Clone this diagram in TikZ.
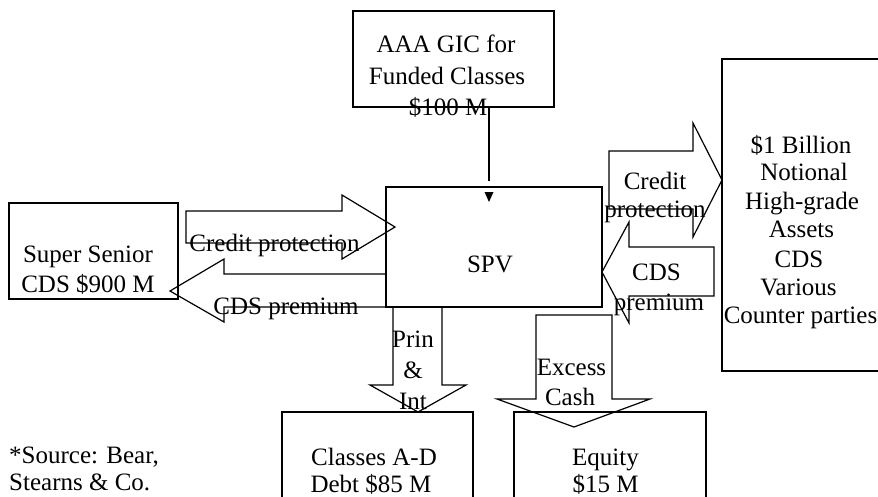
\documentclass[tikz,border=0pt]{standalone}
\usepackage{fontspec}
\setmainfont{Liberation Serif}
\begin{document}
\begin{tikzpicture}[x=1pt,y=-1pt,
  box/.style={draw,line width=1.2pt,inner sep=0pt},
  shp/.style={draw,line width=1.2pt,line join=miter},
  lbl/.style={anchor=base,inner sep=0pt,font=\fontsize{25}{29}\selectfont},
  lblw/.style={anchor=base west,inner sep=0pt,font=\fontsize{25}{29}\selectfont}]
\useasboundingbox (0,0) rectangle (878,496);
\clip (0,0) rectangle (878,496);
% boxes
\node[box,minimum width=201pt,minimum height=96pt] (gic) at (453.5,59) {};
\node[box,minimum width=216pt,minimum height=120pt] (spv) at (494,247) {};
\node[box,minimum width=169pt,minimum height=96pt] (ss) at (93.5,251) {};
\node[box,minimum width=170pt,minimum height=312pt] (assets) at (807,215) {};
\node[box,minimum width=191pt,minimum height=100pt] (cls) at (377.5,462) {};
\node[box,minimum width=192pt,minimum height=100pt] (eq) at (610,462) {};
% connector GIC -> SPV
\coordinate (gend) at (489,181);
\draw[line width=1.2pt] (gic.south -| gend) -- (gend);
\fill (484.5,192) -- (493.5,192) -- (489,202) -- cycle;
% block arrows
\draw[shp] (186,211) -- (342,211) -- (342,195) -- (395,227) -- (342,259) -- (342,243) -- (186,243) -- cycle;
\draw[shp] (386,274) -- (224,274) -- (224,259) -- (170,291) -- (224,322) -- (224,307) -- (386,307) -- cycle;
\draw[shp] (609,151) -- (693,151) -- (693,123) -- (722,180) -- (693,237) -- (693,209) -- (609,209) -- cycle;
\draw[shp] (714,247) -- (629,247) -- (629,222) -- (602,272) -- (629,323) -- (629,296) -- (714,296) -- cycle;
\draw[shp] (393,307) -- (442,307) -- (442,385) -- (466,385) -- (418,412) -- (370,385) -- (393,385) -- cycle;
\draw[shp] (536,315) -- (612,315) -- (612,399) -- (650,399) -- (574,427) -- (497,399) -- (536,399) -- cycle;
% texts
\node[lbl] (g1) at (446,52) {AAA GIC for};
\node[lbl] (g2) at (447,84) {Funded Classes};
\node[lbl] (g3) at (448,115) {\$100 M};
\node[lbl] (s1) at (88,262) {Super Senior};
\node[lbl] (s2) at (88,292) {CDS \$900 M};
\node[lbl] (cp1) at (274.5,251) {Credit protection};
\node[lbl] (pr1) at (286,314) {CDS premium};
\node[lbl] (spvt) at (490,272) {SPV};
\node[lbl] (cp2a) at (655,189) {Credit};
\node[lbl] (cp2b) at (655,217) {protection};
\node[lbl] (pr2a) at (656.5,280) {CDS};
\node[lbl] (pr2b) at (659,310) {premium};
\node[lbl] (pi1) at (413,347) {Prin};
\node[lbl] (pi2) at (413,378) {\&};
\node[lbl] (pi3) at (413,409) {Int};
\node[lbl] (ex1) at (571.5,375) {Excess};
\node[lbl] (ex2) at (570,405) {Cash};
\node[lbl] (a1) at (801,153) {\$1 Billion};
\node[lbl] (a2) at (804,180) {Notional};
\node[lbl] (a3) at (802,209) {High-grade};
\node[lbl] (a4) at (801.5,237) {Assets};
\node[lbl] (a5) at (799,267) {CDS};
\node[lbl] (a6) at (798.5,295) {Various};
\node[lbl] (a7) at (800.5,323) {Counter parties};
\node[lbl] (c1) at (374,465) {Classes A-D};
\node[lbl] (c2) at (371,492) {Debt \$85 M};
\node[lbl] (e1) at (605.5,465) {Equity};
\node[lbl] (e2) at (605.5,492) {\$15 M};
\node[lblw] (src1) at (9,463) {*Source: Bear,};
\node[lblw] (src2) at (9,490) {Stearns \& Co.};
\end{tikzpicture}
\end{document}
